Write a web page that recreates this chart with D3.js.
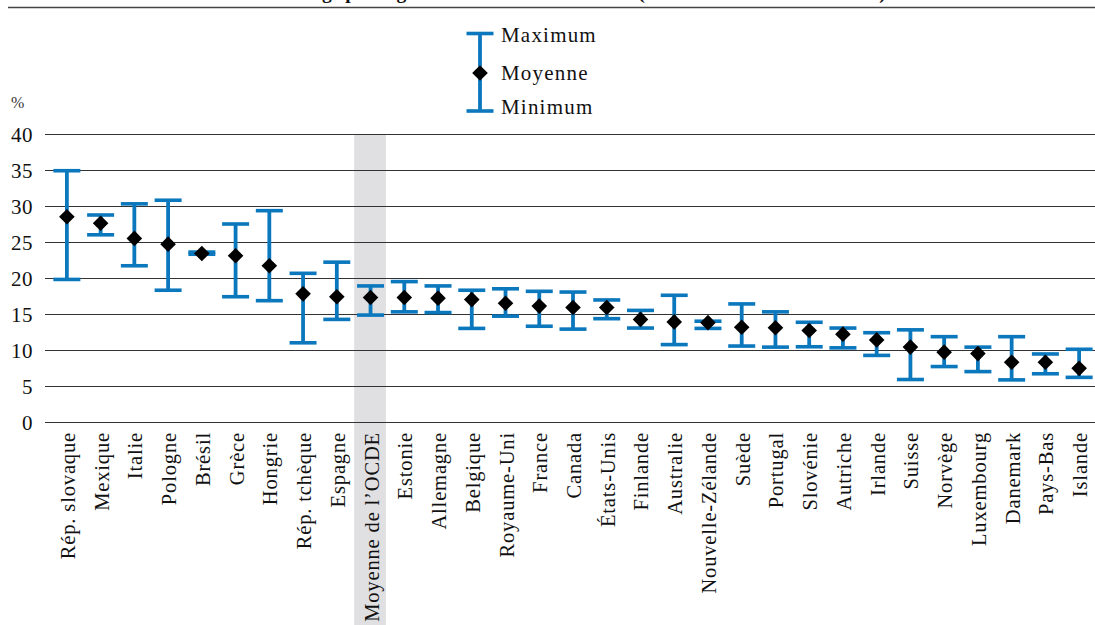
<!DOCTYPE html>
<html><head><meta charset="utf-8">
<script src="https://cdn.jsdelivr.net/npm/d3@7"></script>
<style>
body{margin:0;background:#fff;}
svg{display:block;}
svg text{font-family:"Liberation Serif","DejaVu Serif",serif;}
</style></head>
<body><svg id="c" width="1095" height="625"></svg>
<script>
const categories = ["Rép. slovaque","Mexique","Italie","Pologne","Brésil","Grèce","Hongrie","Rép. tchèque","Espagne","Moyenne de l’OCDE","Estonie","Allemagne","Belgique","Royaume-Uni","France","Canada","États-Unis","Finlande","Australie","Nouvelle-Zélande","Suède","Portugal","Slovénie","Autriche","Irlande","Suisse","Norvège","Luxembourg","Danemark","Pays-Bas","Islande"];
const maxValues = [34.9,28.75,30.3,30.8,23.6,27.5,29.35,20.65,22.2,18.9,19.5,18.9,18.3,18.5,18.15,18.05,16.95,15.5,17.6,14.0,16.4,15.3,13.85,13.05,12.4,12.8,11.85,10.4,11.85,9.45,10.1];
const meanValues = [28.5,27.6,25.5,24.7,23.4,23.1,21.7,17.8,17.4,17.3,17.3,17.2,17.0,16.5,16.1,15.9,15.9,14.25,13.9,13.8,13.15,13.1,12.7,12.2,11.4,10.4,9.7,9.5,8.3,8.3,7.45];
const minValues = [19.8,26.0,21.7,18.3,23.3,17.4,16.85,11.0,14.25,14.85,15.3,15.2,13.0,14.7,13.3,12.9,14.35,13.05,10.75,13.0,10.55,10.4,10.45,10.3,9.25,5.9,7.7,7.0,5.85,6.7,6.2];
const yTicks = [0,5,10,15,20,25,30,35,40];
const highlight = "Moyenne de l’OCDE";
const legendLabels = ["Maximum","Moyenne","Minimum"];
const titleText = "Écart de taux de chômage par région dans les États membres (écart en % du total national)";

const data = categories.map((c,i)=>({c, max:maxValues[i], mean:meanValues[i], min:minValues[i]}));
const svg = d3.select("#c");
const blue = "#0b78bd";
const gridLeft = 45, mLeft = 50, mRight = 1096, mTop = 134, mBottom = 422;

// title (clipped at top in the reference) and rule
const title = svg.append("text").attr("x", 0).attr("y", -1)
  .attr("font-weight","bold").attr("font-size",19).attr("fill","#111").text(titleText);
{
  const node = title.node();
  const gi = titleText.indexOf("g");
  const pg = node.getStartPositionOfChar(gi).x;
  const ee = node.getEndPositionOfChar(titleText.length-1).x;
  const s = (886-322)/(ee-pg);
  title.attr("font-size", 19*s).attr("x", 322 - pg*s);
}
svg.append("line").attr("x1",8).attr("x2",1095).attr("y1",7.5).attr("y2",7.5)
  .attr("stroke","#444").attr("stroke-width",1.5);

const x = d3.scaleBand().domain(categories).range([mLeft,mRight]).padding(0);
const y = d3.scaleLinear().domain([0,40]).range([mBottom,mTop]);

// highlight band
svg.append("rect").attr("x", x(highlight)+0.5).attr("width", x.bandwidth()-2)
  .attr("y", mTop).attr("height", 625-mTop).attr("fill","#e0e0e2");

// gridlines
svg.append("g").selectAll("line").data(yTicks).join("line")
  .attr("x1",gridLeft).attr("x2",1095)
  .attr("y1",d=>Math.round(y(d))+0.5).attr("y2",d=>Math.round(y(d))+0.5)
  .attr("stroke","#333").attr("stroke-width",1);

// y axis labels
const yAxis = d3.axisLeft(y).tickValues(yTicks).tickSize(0).tickPadding(0);
const ga = svg.append("g").attr("transform",`translate(${gridLeft-12},0)`).call(yAxis);
ga.select(".domain").remove();
ga.attr("font-family",null);
ga.selectAll("text").attr("font-size",21).attr("letter-spacing",0.5).attr("fill","#111").attr("dy","0.34em");

svg.append("text").attr("x",11).attr("y",108).attr("font-size",16).attr("fill","#333").text("%");

// x labels
const xAxis = d3.axisBottom(x).tickSize(0).tickPadding(0);
const gx = svg.append("g").attr("transform",`translate(0,${mBottom})`).call(xAxis);
gx.select(".domain").remove();
gx.attr("font-family",null);
gx.selectAll("text").attr("font-size",20.5).attr("letter-spacing",0.85).attr("fill","#111")
  .attr("text-anchor","end").attr("dy",null).attr("y",0)
  .attr("transform","translate(1,10) rotate(-90)").attr("dominant-baseline","central");

// error bars
const capW = 27, cx = d=>x(d.c)+x.bandwidth()/2;
const g = svg.append("g");
g.selectAll(".v").data(data).join("line")
  .attr("x1",cx).attr("x2",cx).attr("y1",d=>y(d.max)).attr("y2",d=>y(d.min))
  .attr("stroke",blue).attr("stroke-width",3.8);
g.selectAll(".mx").data(data).join("line")
  .attr("x1",d=>cx(d)-capW/2).attr("x2",d=>cx(d)+capW/2).attr("y1",d=>y(d.max)).attr("y2",d=>y(d.max))
  .attr("stroke",blue).attr("stroke-width",3.6);
g.selectAll(".mn").data(data).join("line")
  .attr("x1",d=>cx(d)-capW/2).attr("x2",d=>cx(d)+capW/2).attr("y1",d=>y(d.min)).attr("y2",d=>y(d.min))
  .attr("stroke",blue).attr("stroke-width",3.6);
const diamond = "M0,-7.8L7.8,0L0,7.8L-7.8,0Z";
g.selectAll(".dm").data(data).join("path")
  .attr("d",diamond).attr("transform",d=>`translate(${cx(d)},${y(d.mean)})`).attr("fill","#000");

// legend
const lg = svg.append("g");
const lx = 480, ly1 = 33.5, ly2 = 111, lym = 73;
lg.append("line").attr("x1",lx).attr("x2",lx).attr("y1",ly1).attr("y2",ly2).attr("stroke",blue).attr("stroke-width",3.8);
lg.append("line").attr("x1",lx-13.5).attr("x2",lx+13.5).attr("y1",ly1).attr("y2",ly1).attr("stroke",blue).attr("stroke-width",3.6);
lg.append("line").attr("x1",lx-13.5).attr("x2",lx+13.5).attr("y1",ly2).attr("y2",ly2).attr("stroke",blue).attr("stroke-width",3.6);
lg.append("path").attr("d",diamond).attr("transform",`translate(${lx},${lym})`).attr("fill","#000");
const lyb = [41.5,80,113.5];
lg.selectAll("text").data(legendLabels).join("text")
  .attr("x",501).attr("y",(d,i)=>lyb[i]).attr("font-size",21).attr("letter-spacing",1.2).attr("fill","#111").text(d=>d);
</script></body></html>
